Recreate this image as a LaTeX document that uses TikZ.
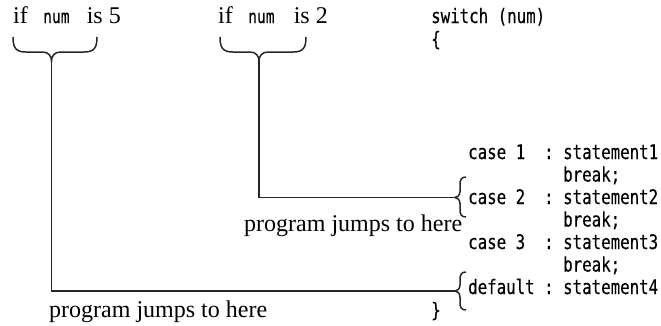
\documentclass[tikz,border=0pt]{standalone}
\usepackage{fontspec}
\setmainfont{Liberation Serif}
\newfontfamily\codefont[FakeStretch=0.789,FakeBold=0.3]{DejaVu Sans Mono}
\newcommand\HBrace[4]{% xl, xt, xr, y0
 \draw[ln] (#1,#4) .. controls (#1,{#4+11}) and ({#1+3},{#4+15}) .. ({#1+13},{#4+15}) -- ({#2-9},{#4+15}) .. controls ({#2-3},{#4+15}) and (#2,{#4+19}) .. (#2,{#4+24}) .. controls (#2,{#4+19}) and ({#2+3},{#4+15}) .. ({#2+9},{#4+15}) -- ({#3-13},{#4+15}) .. controls ({#3-3},{#4+15}) and (#3,{#4+11}) .. (#3,#4);}
\newcommand\VBrace[4]{% yt, yc, yb, xt
 \draw[ln] ({#4+11},#1) .. controls ({#4+6},#1) and ({#4+5},{#1+3}) .. ({#4+5},{#1+8}) -- ({#4+5},{#2-6}) .. controls ({#4+5},{#2-2}) and ({#4+2},#2) .. (#4,#2) .. controls ({#4+2},#2) and ({#4+5},{#2+2}) .. ({#4+5},{#2+6}) -- ({#4+5},{#3-8}) .. controls ({#4+5},{#3-3}) and ({#4+6},#3) .. ({#4+11},#3);}
\begin{document}
\begin{tikzpicture}[x=1pt,y=-1pt,
  ln/.style={line width=1.5pt,draw=black!85},
  serif/.style={inner sep=0pt,anchor=base west,font=\fontsize{24}{28}\selectfont},
  serifE/.style={serif,anchor=base east},
  code/.style={inner sep=0pt,anchor=base west,font=\codefont\fontsize{20}{24}\selectfont},
  inl/.style={inner sep=0pt,anchor=base west,font=\codefont\fontsize{18.5}{22}\selectfont}]
\useasboundingbox (0,0) rectangle (661,325);
% labels
\node[serif] (if1) at (13,23) {if};
\node[inl] (num1) at (43,23) {num};
\node[serifE] (is1) at (121,23) {is 5};
\node[serif] (if2) at (218,23) {if};
\node[inl] (num2) at (248,23) {num};
\node[serifE] (is2) at (328,23) {is 2};
\node[serif] (jump2) at (244,231) {program jumps to here};
\node[serif] (jump1) at (49,317) {program jumps to here};
% code
\node[code] (sw) at (431,23) {switch (num)};
\node[code] (ob) at (431,46) {\{};
\node[code] (c1a) at (468,159) {case 1};
\node[code] (c1b) at (544,159) {:};
\node[code] (c1c) at (563,159) {statement1};
\node[code] (b1) at (563,181.5) {break;};
\node[code] (c2a) at (468,204) {case 2};
\node[code] (c2b) at (544,204) {:};
\node[code] (c2c) at (563,204) {statement2};
\node[code] (b2) at (563,226.5) {break;};
\node[code] (c3a) at (468,249) {case 3};
\node[code] (c3b) at (544,249) {:};
\node[code] (c3c) at (563,249) {statement3};
\node[code] (b3) at (563,271.5) {break;};
\node[code] (dfa) at (468,294) {default};
\node[code] (dfb) at (544,294) {:};
\node[code] (dfc) at (563,294) {statement4};
\node[code] (cb) at (431,317) {\}};
% braces
\HBrace{13}{51.5}{97}{37}
\HBrace{220}{259}{306}{37}
\VBrace{177}{197.5}{217}{455}
\VBrace{272}{291}{310}{455}
\coordinate (tipA) at (51.5,61);
\coordinate (tipB) at (259,61);
\coordinate (bcase) at (455,197.5);
\coordinate (bdef) at (455,291);
\draw[ln] (tipB) |- (bcase);
\draw[ln] (tipA) |- (bdef);
\end{tikzpicture}
\end{document}
